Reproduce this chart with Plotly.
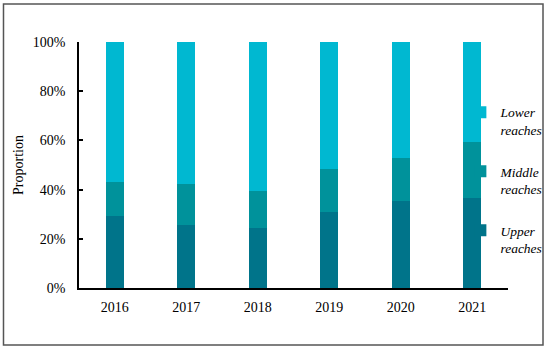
import plotly.graph_objects as go

years = ["2016", "2017", "2018", "2019", "2020", "2021"]
upper = [29.3, 25.5, 24.4, 31.0, 35.2, 36.5]
middle_top = [43.1, 42.3, 39.6, 48.4, 53.0, 59.5]
middle = [round(m - u, 1) for m, u in zip(middle_top, upper)]
lower = [round(100 - m, 1) for m in middle_top]

series_names = ["<i>Upper<br>reaches</i>", "<i>Middle<br>reaches</i>", "<i>Lower<br>reaches</i>"]
series_values = [upper, middle, lower]
series_colors = ["#00748A", "#00929B", "#00B8D1"]
legend_ranks = [3, 2, 1]

FONT = "Liberation Serif, Times New Roman, serif"

fig = go.Figure()
for i, (name, vals, col, rk) in enumerate(zip(series_names, series_values, series_colors, legend_ranks)):
    fig.add_trace(go.Bar(
        x=years, y=vals, name=name, marker_color=col,
        marker_line_width=0, width=0.25, legendgroup=f"g{i}", legendrank=rk,
    ))

fig.update_layout(
    barmode="stack",
    width=550, height=350,
    margin=dict(l=79, r=42, t=42, b=62, autoexpand=False),
    paper_bgcolor="white", plot_bgcolor="white",
    font=dict(family=FONT, size=14, color="black"),
    showlegend=True,
    legend=dict(
        x=0.889, y=0.777, xanchor="left", yanchor="top",
        traceorder="grouped", tracegroupgap=21,
        valign="top", font=dict(family=FONT, size=13.5, color="black"),
        itemwidth=30, bgcolor="rgba(0,0,0,0)",
    ),
    xaxis=dict(
        range=[-0.5, 5.5], showline=True, linecolor="black", linewidth=1.5,
        ticks="", ticklabelstandoff=5, showgrid=False,
    ),
    yaxis=dict(
        range=[0, 100], tickvals=[0, 20, 40, 60, 80, 100],
        ticktext=["0%", "20%", "40%", "60%", "80%", "100%"],
        showline=True, linecolor="black", linewidth=1.5,
        ticks="inside", ticklen=4, tickcolor="black", tickwidth=1.5,
        ticklabelstandoff=9, showgrid=False, zeroline=False,
        title=dict(text="Proportion", standoff=6, font=dict(family=FONT, size=14)),
    ),
    shapes=[dict(
        type="rect", xref="paper", yref="paper",
        x0=-0.176, x1=1.0816, y0=-0.2317, y1=1.1545,
        line=dict(color="#555555", width=1.5), fillcolor="rgba(0,0,0,0)",
    )],
)

fig.write_html("out.html", config={"displayModeBar": False},
               post_script="document.body.style.margin='0';")
